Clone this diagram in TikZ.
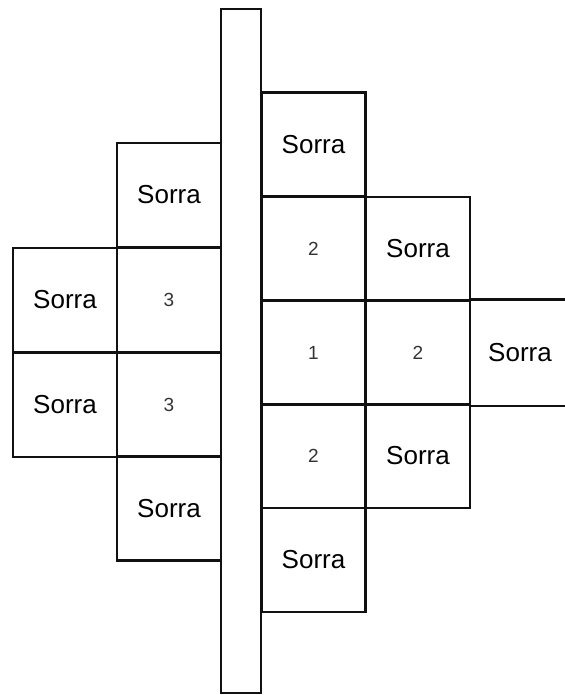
\documentclass[tikz,border=0pt]{standalone}
\usepackage{fontspec}
\setmainfont{Liberation Sans}
\definecolor{cellline}{HTML}{111111}
\definecolor{numgray}{HTML}{333333}
\tikzset{
  cell/.style={draw=cellline, line width=1.1pt, minimum size=52pt, inner sep=0pt, font=\fontsize{13}{15}\selectfont},
  numcell/.style={cell, text=numgray, font=\fontsize{9.5}{11}\selectfont},
  opencell/.style={minimum size=52pt, inner sep=0pt, font=\fontsize{13}{15}\selectfont},
  bar/.style={draw=cellline, line width=1.1pt, fill=white, minimum width=20pt, minimum height=342pt, inner sep=0pt},
  edge/.style={draw=cellline, line width=1.1pt}
}

\begin{document}
\begin{tikzpicture}[x=0.5pt, y=-0.5pt]
  \useasboundingbox (0,0) rectangle (565,695);

  % left side
  \node[cell] (l1) at (169,195) {Sorra};
  \node[numcell] (l2) at (169,300) {3};
  \node[numcell] (l3) at (169,405) {3};
  \node[cell] (l4) at (169,508.5) {Sorra};
  \node[cell] (ll2) at (65,300) {Sorra};
  \node[cell] (ll3) at (65,405) {Sorra};

  % right side
  \node[cell] (r1) at (313.5,144.5) {Sorra};
  \node[numcell] (r2) at (313.5,249) {2};
  \node[numcell] (r3) at (313.5,352.5) {1};
  \node[numcell] (r4) at (313.5,456) {2};
  \node[cell] (r5) at (313.5,560) {Sorra};
  \node[cell] (s2) at (418,249) {Sorra};
  \node[numcell] (s3) at (418,352.5) {2};
  \node[cell] (s4) at (418,456) {Sorra};

  % open cell at the right edge
  \node[opencell] (t3) at (520,352.5) {Sorra};
  \coordinate (rimedge) at (566,352.5);
  \draw[edge] (s3.north east) -- (s3.north east -| rimedge);
  \draw[edge] (s3.south east) -- (s3.south east -| rimedge);

  % centre bar
  \node[bar] (bar) at (241,351) {};
\end{tikzpicture}
\end{document}
